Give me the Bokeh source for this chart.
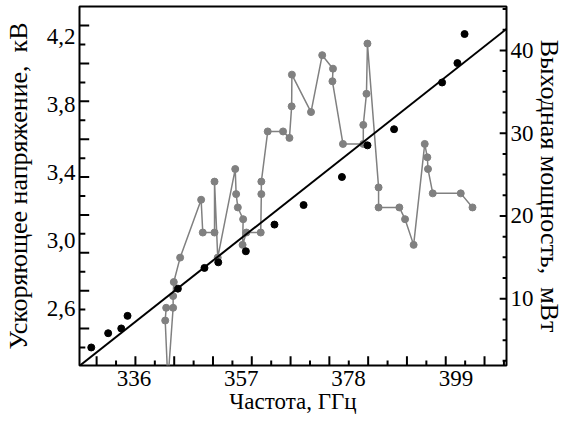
import numpy as np
from bokeh.plotting import figure
from bokeh.models import Range1d, LinearAxis, FixedTicker
from bokeh.embed import file_html
from bokeh.resources import INLINE

# ---- data ----
voltage_freq = [327.65, 330.96, 333.52, 334.75, 344.6, 349.8, 352.5, 357.9,
                363.5, 369.2, 376.7, 381.7, 386.9, 396.3, 399.3, 400.7]
voltage_kv = [2.373, 2.457, 2.485, 2.559, 2.719, 2.841, 2.874, 2.939,
              3.096, 3.211, 3.376, 3.562, 3.657, 3.932, 4.046, 4.217]
fit_freq = [325.35, 408.9]
fit_kv = [2.265, 4.247]
power_freq = [342.31, 342.12, 342.64, 343.67, 343.67, 343.80, 345.04, 349.15,
              349.47, 351.77, 351.77, 352.40, 355.82, 356.00, 356.33, 357.37,
              357.26, 358.01, 360.81, 360.93, 360.93, 362.18, 365.18, 366.43,
              366.86, 366.91, 370.65, 372.84, 374.95, 374.84, 376.90, 380.88,
              380.88, 381.50, 381.69, 383.87, 383.87, 387.93, 389.05, 390.73,
              392.90, 393.41, 393.54, 394.47, 399.95, 402.25]
power_mw = [8.91, 7.37, 0.0, 8.91, 10.33, 12.02, 14.97, 21.96,
            18.0, 18.0, 24.15, 14.97, 25.67, 22.64, 21.03, 19.61,
            16.51, 18.0, 18.0, 22.64, 24.15, 30.21, 30.21, 29.43,
            33.24, 37.07, 32.55, 39.42, 37.79, 36.27, 28.7, 28.7,
            31.0, 34.76, 40.82, 23.45, 21.03, 21.03, 19.61, 16.51,
            28.7, 27.09, 25.67, 22.73, 22.73, 21.03]
x_labels = [336, 357, 378, 399]
v_labels = [2.6, 3.0, 3.4, 3.8, 4.2]
p_labels = [10, 20, 30, 40]

FONT = "Liberation Serif"
TICK_FS = "23px"
GRAY = "#808080"
NBSP = "\u00a0"
X0, X1 = 325.35, 408.9
Y0, Y1 = 2.267, 4.379
P0, P1 = 1.94, 45.3

p = figure(width=566, height=425, output_backend="svg", toolbar_location=None,
           x_range=Range1d(X0, X1), y_range=Range1d(Y0, Y1),
           min_border_left=69, min_border_top=6, min_border_right=50,
           min_border_bottom=60)
p.extra_y_ranges = {"power": Range1d(P0, P1)}
p.outline_line_color = "black"
p.outline_line_width = 2
p.grid.visible = False
p.background_fill_color = None
p.border_fill_color = None


def labels_only(ax):
    ax.axis_line_color = None
    ax.major_tick_in = 0
    ax.major_tick_out = 0
    ax.minor_tick_in = 0
    ax.minor_tick_out = 0
    ax.major_label_text_font = FONT
    ax.major_label_text_font_size = TICK_FS
    ax.major_label_text_color = "black"
    ax.axis_label_text_font = FONT
    ax.axis_label_text_font_style = "normal"
    ax.axis_label_text_color = "black"


xl = p.xaxis[0]
xl.ticker = FixedTicker(ticks=x_labels, minor_ticks=[])
xl.axis_label = "Частота, ГГц"
labels_only(xl)
xl.major_label_standoff = 5
xl.axis_label_standoff = 0
xl.axis_label_text_font_size = "23px"

yl = p.yaxis[0]
yl.ticker = FixedTicker(ticks=v_labels, minor_ticks=[])
yl.axis_label = "Ускоряющее напряжение," + NBSP + NBSP + "кВ"
labels_only(yl)
yl.major_label_standoff = 4
yl.axis_label_standoff = 11
yl.axis_label_text_font_size = "26px"
yl.axis_label_text_line_height = 0.8
yl.major_label_overrides = {v: f"{v:.1f}".replace(".", ",") for v in v_labels}

ry = LinearAxis(y_range_name="power",
                ticker=FixedTicker(ticks=p_labels, minor_ticks=[]),
                axis_label="Выходная мощность," + NBSP + NBSP + "мВт")
labels_only(ry)
ry.major_label_standoff = 4
ry.axis_label_standoff = -2
ry.axis_label_text_font_size = "26px"
if "axis_label_orientation" in ry.properties():
    ry.axis_label_orientation = "vertical"
p.add_layout(ry, "right")

# inward tick marks drawn as short segments from the frame edges
PX_X = 440 / (X1 - X0)      # approx. pixels per GHz
PX_V = 352 / (Y1 - Y0)      # approx. pixels per kV
PX_P = 352 / (P1 - P0)      # approx. pixels per mW

xt = np.arange(11)
x_long = [float(v) for v in 328.7 + 7.59 * xt]
x_short = [float(v) for v in 332.5 + 7.59 * xt]
vt = 4.2667 - 0.11139 * np.arange(18)
v_long = [float(v) for v in vt[0::2]]
v_short = [float(v) for v in vt[1::2]]
p_long = [float(v) for v in p_labels]
p_short = [float(v) for v in np.arange(2.5, 45.1, 2.5) if v % 10 != 0]

tk = dict(line_color="black", line_width=2)
yb = Y0 - 2 / PX_V
xb = X0 - 2 / PX_X
xr = X1 + 2 / PX_X
p.segment(x0=x_long, y0=[yb] * len(x_long), x1=x_long,
          y1=[Y0 + 9 / PX_V] * len(x_long), **tk)
p.segment(x0=x_short, y0=[yb] * len(x_short), x1=x_short,
          y1=[Y0 + 5 / PX_V] * len(x_short), **tk)
p.segment(x0=[xb] * len(v_long), y0=v_long, x1=[X0 + 10 / PX_X] * len(v_long),
          y1=v_long, **tk)
p.segment(x0=[xb] * len(v_short), y0=v_short, x1=[X0 + 6 / PX_X] * len(v_short),
          y1=v_short, **tk)
p.segment(x0=[xr] * len(p_long), y0=p_long, x1=[X1 - 7 / PX_X] * len(p_long),
          y1=p_long, y_range_name="power", **tk)
p.segment(x0=[xr] * len(p_short), y0=p_short, x1=[X1 - 4 / PX_X] * len(p_short),
          y1=p_short, y_range_name="power", **tk)

# gray power curve
p.line(power_freq, power_mw, y_range_name="power", line_color=GRAY, line_width=1.5)
p.scatter(power_freq, power_mw, y_range_name="power", size=7, fill_color=GRAY,
          line_color=GRAY)

# voltage fit and points
p.line(fit_freq, fit_kv, line_color="black", line_width=2)
p.scatter(voltage_freq, voltage_kv, size=7, fill_color="black", line_color="black")

open("out.html", "w").write(file_html(p, INLINE))
